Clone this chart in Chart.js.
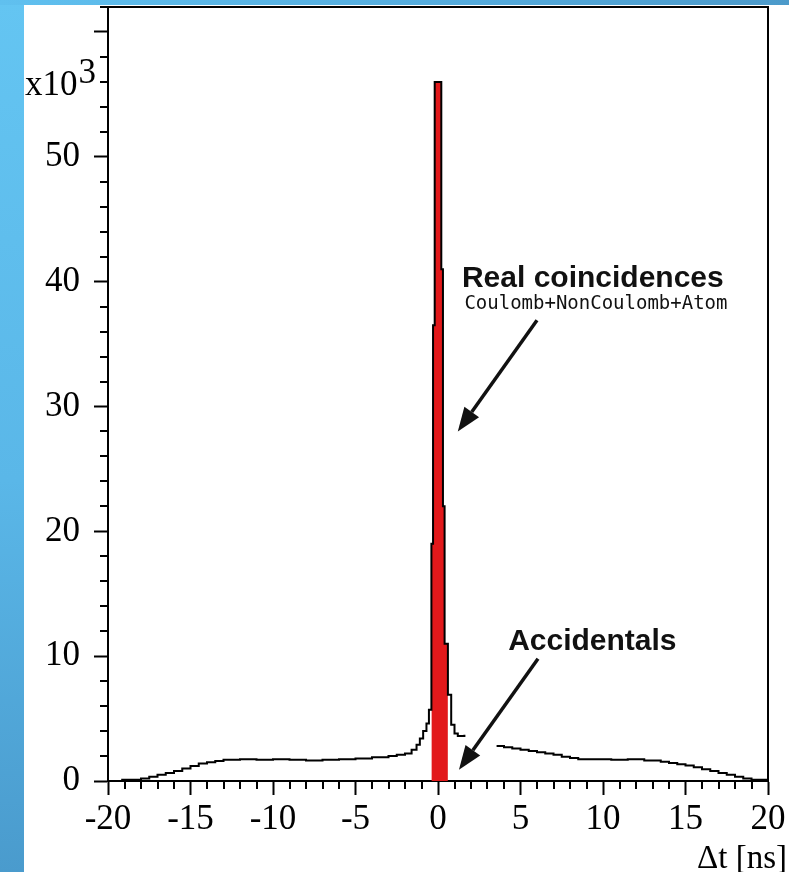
<!DOCTYPE html>
<html>
<head>
<meta charset="utf-8">
<title>Δt distribution</title>
<script src="https://cdn.jsdelivr.net/npm/chart.js@4.4.1/dist/chart.umd.min.js"></script>
<style>
    html, body { margin: 0; padding: 0; }
    body {
        width: 789px;
        height: 872px;
        overflow: hidden;
        background: linear-gradient(180deg, #64c5f2 0%, #5ab7e8 55%, #4a9bcd 100%);
    }
    #topband {
        position: absolute; left: 0; top: 0; width: 789px; height: 5px;
        background: linear-gradient(90deg, #60c0ef 0%, #55abdc 60%, #4c9aca 100%);
    }
    #panel {
        position: absolute; left: 24px; top: 5px; width: 765px; height: 867px;
        background: #fff;
    }
</style>
</head>
<body>
<div id="topband"></div>
<div id="panel"><canvas id="dtChart" width="765" height="867"></canvas></div>

<script>
// Δt histogram, counts in units of 10^3; each bin starts at binLeft[i]
// (null = part of the histogram not drawn, last entry closes the final bin)
const binLeft = [
    -19.2, -18.5, -18.0, -17.5, -17.0, -16.5, -16.0, -15.5, -15.0, -14.5,
    -14.0, -13.5, -13.0, -12.0, -11.0, -10.0, -9.0, -8.0, -7.0, -6.0,
    -5.0, -4.0, -3.0, -2.5, -2.0, -1.6, -1.3, -1.1, -0.9, -0.7,
    -0.55, -0.4, -0.3, -0.2, 0.2, 0.3, 0.4, 0.6, 0.8, 1.0,
    1.2, 1.6, 2.0,
    3.55, 4.0, 4.5, 5.0, 5.5, 6.0, 6.5, 7.0, 7.5, 8.0,
    8.5, 9.5, 10.5, 11.5, 12.5, 13.5, 14.0, 14.5, 15.0, 15.5,
    16.0, 16.5, 17.0, 17.5, 18.0, 18.5, 19.0, 20.0
];
const counts = [
    0.1, 0.1, 0.2, 0.35, 0.5, 0.65, 0.8, 1.0, 1.2, 1.4,
    1.5, 1.6, 1.7, 1.75, 1.7, 1.75, 1.7, 1.65, 1.7, 1.75,
    1.8, 1.9, 2.0, 2.1, 2.2, 2.5, 2.9, 3.4, 4.0, 4.6,
    5.7, 19.0, 36.5, 56.0, 41.0, 22.0, 11.0, 6.9, 4.5, 3.8,
    3.6, 3.7, null,
    2.8, 2.7, 2.6, 2.5, 2.4, 2.3, 2.2, 2.1, 1.95, 1.85,
    1.75, 1.75, 1.7, 1.75, 1.65, 1.55, 1.45, 1.35, 1.25, 1.1,
    0.95, 0.8, 0.65, 0.5, 0.35, 0.2, 0.1, 0.1
];

// prompt window (real coincidences), filled red
const promptLow = -0.4;
const promptHigh = 0.6;

const xRange = [-20, 20];
const yRange = [0, 62];
const yMajorTicks = [0, 10, 20, 30, 40, 50, 60];
const yTickLabels = ["0", "10", "20", "30", "40", "50", ""];

// annotation texts and arrows, placed in data units (ns, x10^3)
const notes = [
    { text: "Real coincidences", x: 1.45, y: 39.6, font: 'bold 30px "Liberation Sans"' },
    { text: "Coulomb+NonCoulomb+Atom", x: 1.6, y: 37.8, font: '19px "DejaVu Sans Mono"' },
    { text: "Accidentals", x: 4.25, y: 10.5, font: 'bold 30px "Liberation Sans"' }
];
const arrows = [
    { from: [6.0, 36.9], to: [1.2, 28.0] },
    { from: [6.06, 9.8], to: [1.27, 0.9] }
];

const serif = '"Liberation Serif", "Times New Roman", serif';

const histPoints = binLeft.map((x, i) => ({ x: x, y: counts[i] }));

const promptPoints = [];
binLeft.forEach((x, i) => {
    if (x >= promptLow && x < promptHigh) promptPoints.push({ x: x, y: counts[i] });
});
promptPoints.push({ x: promptHigh, y: promptPoints[promptPoints.length - 1].y });

// minor ticks, frame and annotations
const decorations = {
    id: "decorations",
    afterDraw(chart) {
        const ctx = chart.ctx;
        const area = chart.chartArea;
        const xs = chart.scales.x;
        const ys = chart.scales.y;

        ctx.save();
        ctx.strokeStyle = "#000";
        ctx.lineWidth = 2;

        // frame top and right
        ctx.beginPath();
        ctx.moveTo(area.left, area.top);
        ctx.lineTo(area.right, area.top);
        ctx.lineTo(area.right, area.bottom);
        ctx.stroke();

        // minor ticks
        ctx.beginPath();
        for (let v = xRange[0]; v <= xRange[1]; v++) {
            if (v % 5 === 0) continue;
            const px = Math.round(xs.getPixelForValue(v));
            ctx.moveTo(px, area.bottom);
            ctx.lineTo(px, area.bottom + 8);
        }
        for (let v = yRange[0]; v <= yRange[1]; v += 2) {
            if (v % 10 === 0) continue;
            const py = Math.round(ys.getPixelForValue(v));
            ctx.moveTo(area.left - 8, py);
            ctx.lineTo(area.left, py);
        }
        ctx.stroke();

        // axis multiplier and title
        ctx.fillStyle = "#000";
        ctx.textBaseline = "alphabetic";
        ctx.textAlign = "left";
        ctx.font = "35px " + serif;
        ctx.fillText("x10", 1, 90);
        const w = ctx.measureText("x10").width;
        ctx.fillText("3", 1 + w + 1, 78);
        ctx.textAlign = "right";
        ctx.font = "33px " + serif;
        ctx.fillText("Δt [ns]", 763, 863);

        // notes
        ctx.textAlign = "left";
        notes.forEach(n => {
            ctx.font = n.font;
            ctx.fillStyle = "#111";
            ctx.fillText(n.text, xs.getPixelForValue(n.x), ys.getPixelForValue(n.y));
        });

        // arrows
        arrows.forEach(a => {
            const x0 = xs.getPixelForValue(a.from[0]);
            const y0 = ys.getPixelForValue(a.from[1]);
            const x1 = xs.getPixelForValue(a.to[0]);
            const y1 = ys.getPixelForValue(a.to[1]);
            const ang = Math.atan2(y1 - y0, x1 - x0);
            const head = 24, half = 9;
            const bx = x1 - head * Math.cos(ang);
            const by = y1 - head * Math.sin(ang);
            ctx.strokeStyle = "#111";
            ctx.lineWidth = 3.5;
            ctx.beginPath();
            ctx.moveTo(x0, y0);
            ctx.lineTo(bx, by);
            ctx.stroke();
            ctx.fillStyle = "#111";
            ctx.beginPath();
            ctx.moveTo(x1, y1);
            ctx.lineTo(bx + half * Math.sin(ang), by - half * Math.cos(ang));
            ctx.lineTo(bx - half * Math.sin(ang), by + half * Math.cos(ang));
            ctx.closePath();
            ctx.fill();
        });
        ctx.restore();
    }
};

new Chart(document.getElementById("dtChart"), {
    type: "line",
    data: {
        datasets: [
            {
                label: "prompt",
                data: promptPoints,
                stepped: true,
                fill: "origin",
                backgroundColor: "#e2191b",
                borderColor: "#e2191b",
                borderWidth: 0,
                pointRadius: 0,
                order: 1
            },
            {
                label: "Δt",
                data: histPoints,
                stepped: true,
                fill: false,
                spanGaps: false,
                borderColor: "#000",
                borderWidth: 2,
                pointRadius: 0,
                order: 0
            }
        ]
    },
    plugins: [decorations],
    options: {
        responsive: false,
        animation: false,
        layout: { padding: { top: 2, right: 21, bottom: 0, left: 0 } },
        plugins: {
            legend: { display: false },
            tooltip: { enabled: false }
        },
        scales: {
            x: {
                type: "linear",
                min: xRange[0],
                max: xRange[1],
                ticks: {
                    stepSize: 5,
                    autoSkip: false,
                    maxRotation: 0,
                    padding: 4,
                    color: "#000",
                    font: { family: serif, size: 35 }
                },
                grid: {
                    drawOnChartArea: false,
                    drawTicks: true,
                    tickLength: 14,
                    tickWidth: 2,
                    tickColor: "#000"
                },
                border: { display: true, color: "#000", width: 2 },
                afterFit(scale) {
                    scale.height = 91;
                    scale.paddingLeft = 0;
                    scale.paddingRight = 0;
                }
            },
            y: {
                type: "linear",
                min: yRange[0],
                max: yRange[1],
                afterBuildTicks(scale) {
                    scale.ticks = yMajorTicks.map(v => ({ value: v }));
                },
                ticks: {
                    autoSkip: false,
                    padding: 14,
                    color: "#000",
                    font: { family: serif, size: 35 },
                    callback: function (value) {
                        const i = yMajorTicks.indexOf(value);
                        return i >= 0 ? yTickLabels[i] : "";
                    }
                },
                grid: {
                    drawOnChartArea: false,
                    drawTicks: true,
                    tickLength: 14,
                    tickWidth: 2,
                    tickColor: "#000"
                },
                border: { display: true, color: "#000", width: 2 },
                afterFit(scale) {
                    scale.width = 84;
                    scale.paddingTop = 0;
                    scale.paddingBottom = 0;
                }
            }
        }
    }
});
</script>
</body>
</html>
